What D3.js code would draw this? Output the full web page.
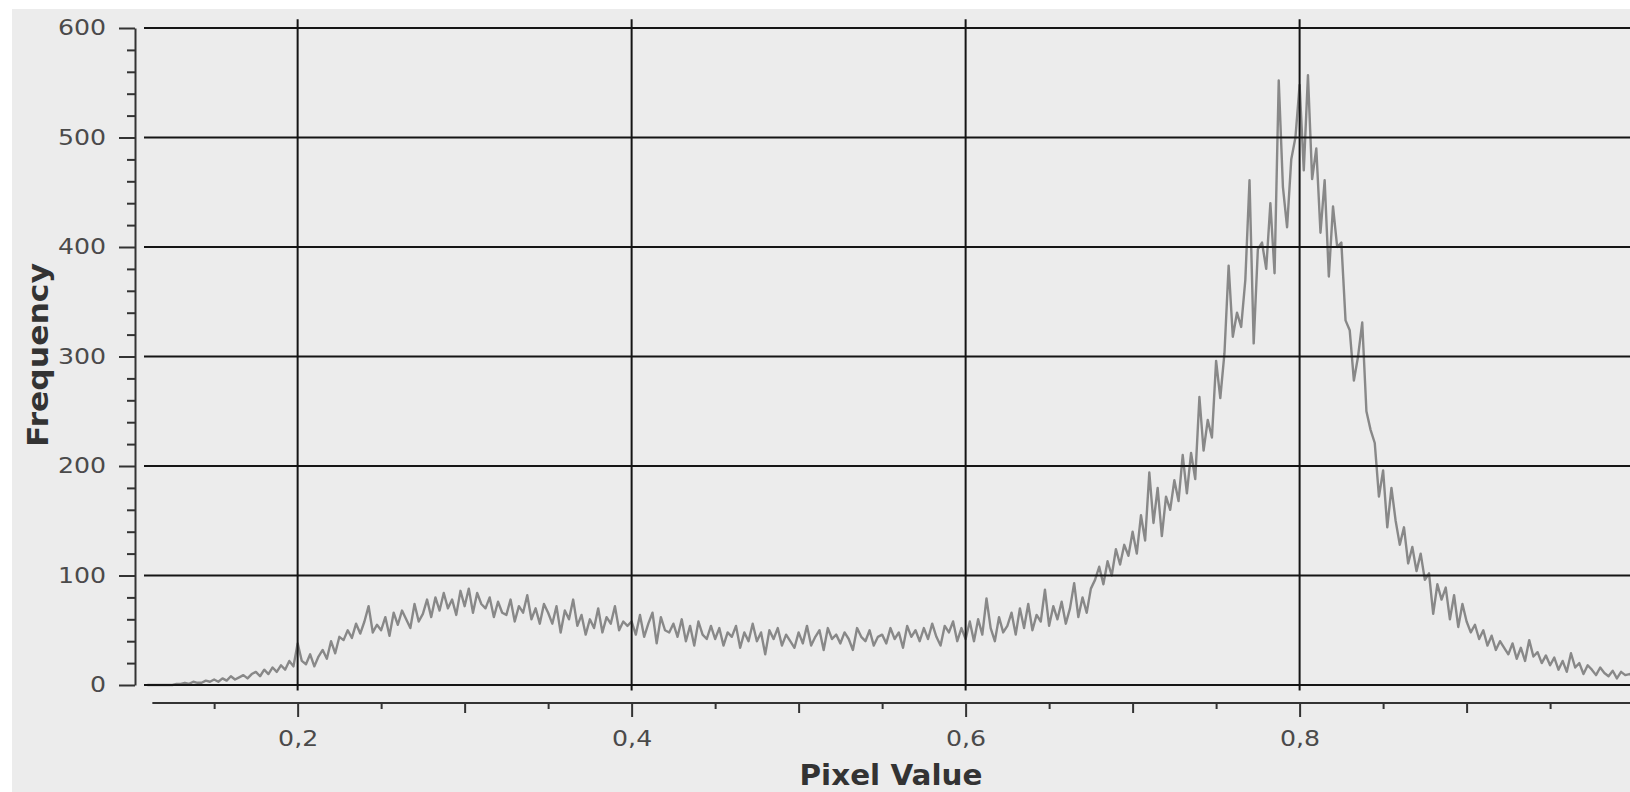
<!DOCTYPE html>
<html>
<head>
<meta charset="utf-8">
<script src="https://cdn.jsdelivr.net/npm/d3@7"></script>
<style>
  body { margin: 0; background: #fff; }
  svg { display: block; font-family: "DejaVu Sans", sans-serif; }
</style>
</head>
<body>
<div id="chart"></div>
<script>

// histogram: left edge of the first bin, bin width, then the counts
var binStart = 0.11;
var binWidth = 0.0025;
var counts = [
    0, 0, 0, 0, 0, 0, 0, 1,
    1, 2, 1, 3, 2, 2, 4, 3,
    5, 3, 6, 4, 8, 5, 7, 9, 6, 10,
    12, 8, 14, 10, 16, 12, 18, 14, 22, 17,
    38, 22, 19, 28, 17, 26, 32, 24, 40, 29,
    44, 41, 50, 43, 56, 47, 58, 72, 48, 55,
    50, 62, 45, 66, 55, 68, 60, 52, 74, 58,
    65, 78, 62, 80, 68, 84, 70, 78, 64, 86,
    72, 88, 66, 84, 74, 70, 80, 62, 76, 66,
    64, 78, 58, 72, 66, 82, 60, 70, 56, 74,
    66, 56, 72, 48, 68, 60, 78, 54, 64, 46,
    60, 52, 70, 48, 62, 56, 72, 50, 58, 54,
    58, 46, 64, 44, 56, 66, 38, 62, 50, 48,
    56, 44, 60, 40, 54, 36, 58, 46, 42, 54,
    42, 52, 36, 48, 44, 54, 34, 48, 40, 56,
    40, 48, 28, 50, 42, 52, 36, 46, 40, 34,
    48, 38, 54, 36, 44, 50, 32, 52, 42, 46,
    38, 48, 42, 32, 52, 44, 40, 50, 36, 44,
    46, 38, 52, 42, 48, 34, 54, 44, 50, 40,
    52, 42, 56, 44, 36, 54, 48, 58, 40, 52,
    42, 58, 40, 60, 46, 79, 52, 40, 62, 48,
    54, 66, 46, 70, 52, 74, 50, 64, 58, 87,
    54, 72, 60, 76, 56, 70, 93, 62, 80, 66,
    88, 96, 108, 92, 113, 100, 124, 110, 128, 118,
    140, 120, 155, 132, 194, 148, 180, 136, 172, 160,
    187, 168, 210, 175, 212, 188, 263, 214, 242, 226,
    296, 262, 303, 383, 318, 340, 327, 370, 461, 312,
    398, 404, 380, 440, 376, 552, 455, 418, 480, 500,
    548, 470, 557, 462, 490, 413, 461, 373, 437, 400,
    404, 333, 324, 278, 300, 331, 250, 233, 221, 172,
    196, 144, 180, 150, 128, 144, 111, 126, 104, 120,
    96, 102, 65, 92, 78, 89, 60, 82, 53, 74,
    58, 48, 55, 42, 50, 36, 45, 32, 40, 34,
    28, 38, 24, 34, 22, 41, 26, 30, 20, 27,
    18, 25, 14, 22, 12, 29, 16, 20, 10, 18,
    14, 9, 16, 11, 8, 13, 6, 12, 9, 10,
    8
];

var xLabelTicks = [0.2, 0.4, 0.6, 0.8];
var xMidTicks = [0.3, 0.5, 0.7, 0.9];
var xMinorTicks = [0.15, 0.25, 0.35, 0.45, 0.55, 0.65, 0.75, 0.85, 0.95];
var yTicks = [0, 100, 200, 300, 400, 500, 600];
var yMinorTicks = [20, 40, 60, 80, 120, 140, 160, 180, 220, 240, 260, 280,
    320, 340, 360, 380, 420, 440, 460, 480, 520, 540, 560, 580];
var xTitle = "Pixel Value";
var yTitle = "Frequency";

var width = 1630,
    height = 792;

var margin = { top: 9, left: 12 };

var data = counts.map(function(c, i) {
    return { v: binStart + i * binWidth, c: c };
});

var x = d3.scaleLinear()
    .domain([0.108, 1.0])
    .range([144, 1633.6]);

var y = d3.scaleLinear()
    .domain([0, 600])
    .range([685, 28]);

// tick labels use a decimal comma
var fmt = d3.formatLocale({ decimal: ",", thousands: ".", grouping: [3], currency: ["", ""] }).format(".1f");

var svg = d3.select("#chart").append("svg")
    .attr("width", width)
    .attr("height", height);

// grey panel
svg.append("rect")
    .attr("x", margin.left)
    .attr("y", margin.top)
    .attr("width", width - margin.left)
    .attr("height", height - margin.top)
    .attr("fill", "#ececec");

// the histogram trace
var line = d3.line()
    .x(function(d) { return x(d.v); })
    .y(function(d) { return y(d.c); });

svg.append("path")
    .datum(data)
    .attr("fill", "none")
    .attr("stroke", "#888")
    .attr("stroke-width", 2.4)
    .attr("stroke-linejoin", "round")
    .attr("d", line);

// grid goes over the trace
var grid = svg.append("g").attr("class", "grid");

grid.selectAll("line.h")
    .data(yTicks)
    .enter().append("line")
    .attr("class", "h")
    .attr("x1", x(0.108))
    .attr("x2", width)
    .attr("y1", function(d) { return y(d); })
    .attr("y2", function(d) { return y(d); })
    .attr("stroke", "#151515")
    .attr("stroke-width", 2);

grid.selectAll("line.v")
    .data(xLabelTicks)
    .enter().append("line")
    .attr("class", "v")
    .attr("x1", function(d) { return x(d); })
    .attr("x2", function(d) { return x(d); })
    .attr("y1", y(608))
    .attr("y2", y(-5))
    .attr("stroke", "#151515")
    .attr("stroke-width", 2);

/*** Y AXIS ***/
var yAxisG = svg.append("g").attr("transform", "translate(135,0)");

yAxisG.append("g")
    .call(d3.axisLeft(y).tickValues(yMinorTicks).tickSize(8).tickSizeOuter(0).tickFormat(""))
    .call(function(g) { g.select(".domain").remove(); });

yAxisG.append("g")
    .call(d3.axisLeft(y).tickValues(yTicks).tickSize(16).tickSizeOuter(0).tickPadding(13))
    .call(styleAxis)
    .call(function(g) {
        g.selectAll(".tick text")
            .attr("x", -29 / 1.2)
            .attr("transform", "scale(1.2,1)");
    });

/*** X AXIS ***/
var xAxisG = svg.append("g").attr("transform", "translate(0,703)");

xAxisG.append("g")
    .call(d3.axisBottom(x).tickValues(xMinorTicks).tickSize(6).tickSizeOuter(0).tickFormat(""))
    .call(function(g) { g.select(".domain").remove(); });

xAxisG.append("g")
    .call(d3.axisBottom(x).tickValues(xMidTicks).tickSize(10).tickSizeOuter(0).tickFormat(""))
    .call(function(g) { g.select(".domain").remove(); });

xAxisG.append("g")
    .call(d3.axisBottom(x).tickValues(xLabelTicks).tickSize(14).tickSizeOuter(0).tickPadding(14).tickFormat(fmt))
    .call(styleAxis)
    .call(function(g) {
        g.select(".domain").attr("d", "M" + x(0.113) + ",0H" + width);
        g.selectAll(".tick text").attr("transform", "scale(1.2,1)");
    });

svg.selectAll(".tick line").attr("stroke", "#333").attr("stroke-width", 2);

function styleAxis(g) {
    g.select(".domain").attr("stroke", "#333").attr("stroke-width", 2);
    g.selectAll(".tick text")
        .attr("fill", "#4a4a4a")
        .style("font-size", "21px")
        .style("font-family", "'DejaVu Sans', sans-serif");
}

// axis titles
svg.append("text")
    .attr("x", 891)
    .attr("y", 785)
    .attr("text-anchor", "middle")
    .attr("fill", "#333")
    .attr("textLength", 183)
    .attr("lengthAdjust", "spacingAndGlyphs")
    .style("font-size", "29px")
    .style("font-weight", "bold")
    .text(xTitle);

svg.append("text")
    .attr("transform", "translate(48,355) rotate(-90)")
    .attr("text-anchor", "middle")
    .attr("fill", "#333")
    .attr("textLength", 184)
    .attr("lengthAdjust", "spacingAndGlyphs")
    .style("font-size", "29px")
    .style("font-weight", "bold")
    .text(yTitle);

</script>
</body>
</html>
